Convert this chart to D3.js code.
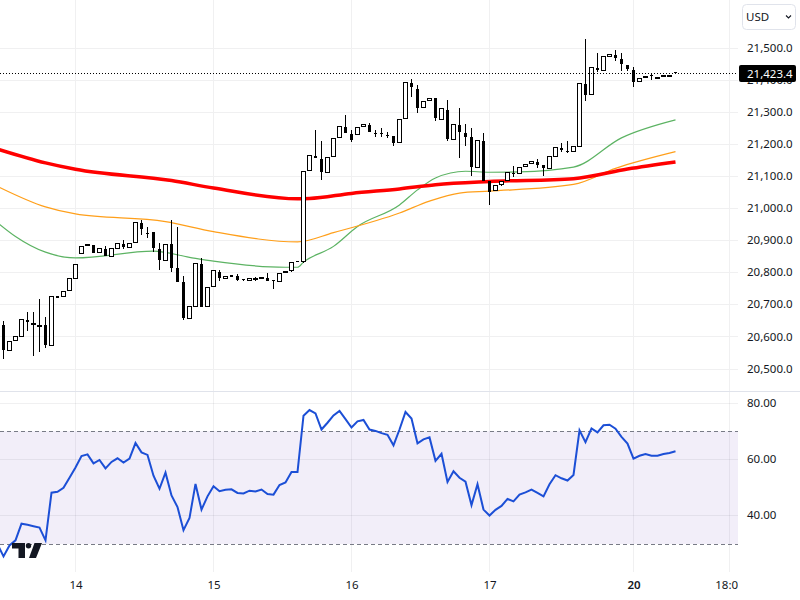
<!DOCTYPE html>
<html>
<head>
<meta charset="utf-8">
<style>
  html, body { margin: 0; padding: 0; background: #fff; }
  svg { display: block; }
  text { font-family: "Noto Sans", sans-serif; font-size: 11.5px; fill: #131722; }
  .axis .domain, .axis line { display: none; }
</style>
</head>
<body>
<svg id="chart" width="800" height="600"></svg>
<script src="https://cdn.jsdelivr.net/npm/d3@7"></script>
<script>
const opens = [20637,20557,20586,20601,20653,20640,20633,20637,20573,20727,20725,20742,20781,20857,20882,20886,20860,20874,20850,20875,20888,20878,20892,20955,20924,20927,20874,20837,20890,20815,20771,20655,20694,20827,20694,20756,20802,20781,20792,20790,20779,20773,20782,20779,20784,20777,20770,20798,20804,20836,20832,21116,21164,21154,21110,21161,21219,21254,21231,21228,21253,21259,21235,21235,21229,21226,21203,21278,21390,21371,21312,21336,21343,21276,21307,21214,21260,21235,21223,21127,21209,21087,21055,21072,21087,21110,21106,21128,21138,21145,21136,21124,21161,21188,21180,21175,21193,21388,21353,21438,21429,21473,21478,21466,21447,21431,21393,21406,21416,21408,21409,21415,21425]
const highs = [20650,20586,20602,20655,20678,20678,20719,20663,20726,20727,20742,20783,20826,20882,20888,20886,20876,20882,20876,20892,20902,20892,20957,20964,20941,20927,20892,20889,20964,20943,20790,20695,20829,20846,20755,20807,20808,20789,20792,20796,20779,20783,20788,20786,20798,20777,20798,20804,20834,20836,21118,21166,21245,21210,21160,21219,21256,21291,21245,21253,21262,21267,21245,21251,21238,21226,21278,21393,21402,21385,21334,21343,21343,21312,21338,21262,21313,21263,21251,21212,21234,21087,21072,21087,21113,21132,21128,21138,21147,21154,21136,21163,21191,21203,21209,21194,21390,21528,21440,21483,21474,21481,21494,21485,21447,21440,21406,21412,21421,21410,21415,21416,21425]
const lows = [20531,20557,20586,20601,20619,20540,20553,20565,20573,20722,20725,20742,20781,20857,20882,20862,20860,20852,20850,20875,20874,20878,20892,20917,20908,20865,20808,20837,20802,20771,20653,20655,20694,20694,20694,20756,20774,20781,20788,20773,20773,20773,20777,20779,20775,20750,20770,20798,20804,20833,20832,21116,21158,21087,21110,21161,21219,21236,21208,21228,21253,21239,21224,21222,21220,21195,21203,21278,21346,21297,21312,21336,21270,21276,21211,21214,21157,21194,21101,21127,21087,21011,21055,21072,21087,21099,21106,21128,21138,21126,21101,21124,21161,21175,21171,21175,21193,21336,21353,21425,21429,21473,21460,21428,21428,21379,21393,21406,21400,21408,21409,21415,21423.4]
const closes = [20559,20586,20602,20655,20646,20644,20637,20575,20726,20722,20742,20783,20826,20882,20888,20862,20876,20852,20876,20892,20880,20892,20957,20936,20922,20877,20840,20889,20815,20771,20659,20695,20829,20694,20755,20807,20784,20789,20788,20777,20777,20783,20784,20786,20775,20774,20798,20804,20834,20833,21118,21166,21158,21115,21160,21219,21256,21236,21213,21253,21262,21239,21233,21233,21228,21205,21278,21393,21379,21314,21334,21343,21281,21312,21217,21262,21238,21223,21129,21212,21087,21051,21072,21087,21113,21109,21128,21138,21147,21136,21126,21163,21191,21183,21179,21194,21390,21355,21440,21431,21474,21481,21469,21450,21435,21395,21406,21412,21415,21410,21415,21416,21423.4]

// moving averages, read only at the bars where the line bends
const red_bars = [-1,7,12,28,35,49,51,58,66,72,81,95,104,112]
const red_ma = [21185,21142,21122,21087,21064,21030,21031,21047,21061,21074,21084,21093,21123,21145]
const orange_bars = [-1,7,12,27,35,49,55,66,71,76,81,95,102,112]
const orange_ma = [21069,21005,20983,20959,20928,20896,20925,20986,21023,21048,21054,21075,21125,21177]
const green_bars = [-1,2,7,12,25,31,35,47,49,50,55,59,66,69,72,77,81,86,95,103,112]
const green_ma = [20956,20913,20864,20846,20867,20848,20836,20817,20817,20833,20882,20944,21011,21058,21095,21116,21113,21114,21129,21220,21276]

// rsi starts one bar before the first candle (bar -1)
const rsi = [29.9,25.6,29.5,31.3,37.2,36.8,36.3,35.8,31.3,48.2,48.5,49.9,53.5,57.1,61.2,61.8,58.6,59.8,56.8,59.1,60.4,58.9,60.3,65.8,62.5,61.6,54.2,49.6,55.3,47.2,43.1,34.9,39.2,51.3,42.2,46.9,50.5,48.7,49.2,49.4,48.1,47.9,48.9,48.6,49.3,47.7,47.5,50.9,51.8,55.5,55.5,75.5,77.5,76.3,70.6,73,75.6,77.2,74.3,71.3,73.5,74,70.6,70.1,69.3,68.7,65,70.6,76.8,74.5,65.7,67.1,67.8,59.5,62,52,55.8,53.5,52.1,43.8,51.2,42.2,40.1,42.1,43.5,46,45.1,47.5,48.3,49.3,48.1,46.9,51.2,54.4,53.3,52.5,54.5,70.3,66.1,71,69.6,72.1,72.3,70.9,68,65.6,60.3,61.3,61.9,61.3,61.3,61.9,62.3,62.9]

const price_ticks = [20500,20600,20700,20800,20900,21000,21100,21200,21300,21400,21500]
const rsi_ticks = [40,60,80]
const time_bars = [12,35,58,81,105,121]
const time_labels = ["14","15","16","17","20","18:00"]
const last_price = 21423.4

const pane_right = 738
const x = d3.scaleLinear().domain([0, 112]).range([3.5, 675.5])
const y = d3.scaleLinear().domain([20500, 21500]).range([369, 48])
const y_rsi = d3.scaleLinear().domain([30, 80]).range([544, 403])
const svg = d3.select("#chart")
const grid_color = "#f0f0f1"

svg.append("defs").append("clipPath").attr("id", "time_clip")
    .append("rect").attr("x", 0).attr("y", 570).attr("width", pane_right).attr("height", 30)

// grids
const crisp = v => Math.round(v - 0.5) + 0.5
svg.append("g").selectAll("line")
    .data(price_ticks)
    .join("line")
    .attr("x1", 0).attr("x2", pane_right)
    .attr("y1", d => crisp(y(d))).attr("y2", d => crisp(y(d)))
    .attr("stroke", grid_color)
svg.append("g").selectAll("line")
    .data(time_bars)
    .join("line")
    .attr("x1", d => crisp(x(d))).attr("x2", d => crisp(x(d)))
    .attr("y1", 0).attr("y2", 572)
    .attr("stroke", grid_color)

// rsi band
svg.append("rect")
    .attr("x", 0).attr("width", pane_right)
    .attr("y", y_rsi(70)).attr("height", y_rsi(30) - y_rsi(70))
    .attr("fill", "#7e57c2").attr("fill-opacity", 0.1)
svg.append("g").selectAll("line")
    .data(rsi_ticks)
    .join("line")
    .attr("x1", 0).attr("x2", pane_right)
    .attr("y1", d => crisp(y_rsi(d))).attr("y2", d => crisp(y_rsi(d)))
    .attr("stroke", "#2a2e39").attr("stroke-opacity", 0.07)
svg.append("g").selectAll("line")
    .data([70, 30])
    .join("line")
    .attr("x1", 0).attr("x2", pane_right)
    .attr("y1", d => crisp(y_rsi(d))).attr("y2", d => crisp(y_rsi(d)))
    .attr("stroke", "#787b86").attr("stroke-dasharray", "4 3")

// pane separator
svg.append("line")
    .attr("x1", 0).attr("x2", 800).attr("y1", 391.5).attr("y2", 391.5)
    .attr("stroke", "#e0e3eb")

// rsi line
svg.append("path")
    .attr("d", d3.line().x((d, i) => x(i - 1)).y(d => y_rsi(d))(rsi))
    .attr("fill", "none")
    .attr("stroke", "#1c4fd6")
    .attr("stroke-width", 2)

// moving averages
function plot_ma(bars, values, color, line_width) {
    svg.append("path")
        .attr("d", d3.line().curve(d3.curveMonotoneX).x(d => x(d)).y((d, i) => y(values[i]))(bars))
        .attr("fill", "none")
        .attr("stroke", color)
        .attr("stroke-width", line_width)
}
plot_ma(green_bars, green_ma, "#5cb363", 1.2)
plot_ma(orange_bars, orange_ma, "#ff9f1a", 1.2)
plot_ma(red_bars, red_ma, "#ff0000", 3.5)

// candles
const bars = d3.range(opens.length)
svg.append("g").selectAll("rect")
    .data(bars)
    .join("rect")
    .attr("x", i => x(i) - 0.5)
    .attr("width", 1)
    .attr("y", i => Math.round(y(highs[i])))
    .attr("height", i => Math.max(1, Math.round(y(lows[i]) - y(highs[i]))))
    .attr("fill", "#000")
svg.append("g").selectAll("rect")
    .data(bars)
    .join("rect")
    .each(function (i) {
        const top = Math.round(y(Math.max(opens[i], closes[i])))
        const bottom = Math.round(y(Math.min(opens[i], closes[i])))
        const sel = d3.select(this)
        if (closes[i] >= opens[i]) {
            sel.attr("x", x(i) - 2).attr("width", 4)
                .attr("y", top + 0.5).attr("height", Math.max(1, bottom - top - 1))
                .attr("fill", "#fff").attr("stroke", "#000")
        } else {
            sel.attr("x", x(i) - 1.5).attr("width", 3)
                .attr("y", top).attr("height", Math.max(1, bottom - top))
                .attr("fill", "#000")
        }
    })

// last price line
const last_y = Math.round(y(last_price))
svg.append("line")
    .attr("x1", 0).attr("x2", pane_right)
    .attr("y1", last_y + 0.5).attr("y2", last_y + 0.5)
    .attr("stroke", "#000").attr("stroke-dasharray", "1 2")

// price scale
svg.append("g")
    .attr("class", "axis")
    .attr("transform", "translate(747,-0.5)")
    .call(d3.axisRight(y).tickValues(price_ticks).tickFormat(d3.format(",.1f")).tickSize(0).tickPadding(0))
svg.append("g")
    .attr("class", "axis")
    .attr("transform", "translate(747,-0.5)")
    .call(d3.axisRight(y_rsi).tickValues(rsi_ticks).tickFormat(d3.format(".2f")).tickSize(0).tickPadding(0))

// time scale
const time_axis = svg.append("g")
    .attr("class", "axis")
    .attr("clip-path", "url(#time_clip)")
    .append("g")
    .attr("transform", "translate(0,581)")
    .call(d3.axisBottom(x).tickValues(time_bars).tickFormat((d, i) => time_labels[i]).tickSize(0).tickPadding(0))
time_axis.selectAll("text").attr("font-weight", (d, i) => time_labels[i] == "20" ? 600 : 400)

// last price tag
svg.append("rect")
    .attr("x", 739).attr("y", last_y - 8).attr("width", 57).attr("height", 17)
    .attr("rx", 2).attr("fill", "#000")
svg.append("text")
    .attr("x", 747).attr("y", last_y + 4.5)
    .style("fill", "#fff")
    .text(d3.format(",.1f")(last_price))

// currency button
svg.append("rect")
    .attr("x", 742.5).attr("y", 4.5).attr("width", 53).attr("height", 25)
    .attr("rx", 4).attr("fill", "#fff").attr("stroke", "#e0e3eb")
svg.append("text").attr("x", 746).attr("y", 21).text("USD")
svg.append("path")
    .attr("d", "M786 15.5 L788.5 18 L791 15.5")
    .attr("fill", "none").attr("stroke", "#131722").attr("stroke-width", 1.1)

// logo
const logo = svg.append("g").attr("fill", "#131722")
logo.append("path").attr("d", "M12 543 H25 V558 H18.5 V548.5 H12 Z")
logo.append("circle").attr("cx", 28.5).attr("cy", 545.7).attr("r", 2.7)
logo.append("path").attr("d", "M34.5 543 H42 L36 558 H29 Z")
</script>
</body>
</html>
